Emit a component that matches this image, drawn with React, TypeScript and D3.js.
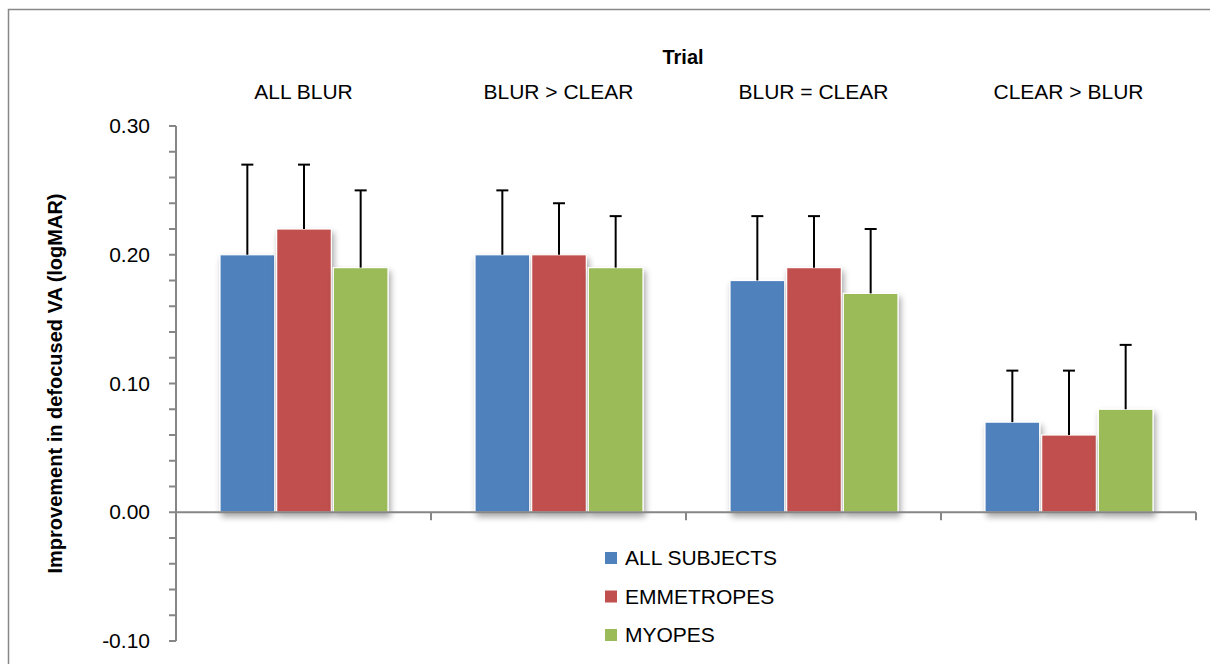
import React from 'react';
import * as d3 from 'd3';

const categories = ['ALL BLUR', 'BLUR > CLEAR', 'BLUR = CLEAR', 'CLEAR > BLUR'];
const seriesNames = ['ALL SUBJECTS', 'EMMETROPES', 'MYOPES'];
const seriesColors = ['#4F81BD', '#C0504D', '#9BBB59'];
const allSubjects = [0.2, 0.2, 0.18, 0.07];
const emmetropes = [0.22, 0.2, 0.19, 0.06];
const myopes = [0.19, 0.19, 0.17, 0.08];
const allSubjectsErr = [0.27, 0.25, 0.23, 0.11];
const emmetropesErr = [0.27, 0.24, 0.23, 0.11];
const myopesErr = [0.25, 0.23, 0.22, 0.13];
const yTicks = [-0.1, 0, 0.1, 0.2, 0.3];

const App = () => {
  const width = 1210;
  const height = 664;
  const left = 176;
  const right = 1196;
  const font = '"Liberation Sans", Arial, sans-serif';

  const yScale = d3.scaleLinear().domain([-0.1, 0.3]).range([641, 126]);
  const xScale = d3.scaleBand().domain(categories).range([left, right]).paddingInner(0).paddingOuter(0);
  const inner = d3.scaleBand().domain(seriesNames).range([44, xScale.bandwidth() - 43]).paddingInner(0.035);

  const values = [allSubjects, emmetropes, myopes];
  const errs = [allSubjectsErr, emmetropesErr, myopesErr];
  const minorTicks = d3.range(-0.1, 0.3001, 0.02);
  const y0 = yScale(0);
  const fmt = (t: number) => d3.format('.2f')(t).replace('\u2212', '-');

  return (
    <svg width={width} height={height} style={{ position: 'absolute', left: 0, top: 0 }}>
      <defs>
        <filter id='shadow' x='-20%' y='-20%' width='150%' height='150%'>
          <feDropShadow dx='2' dy='4' stdDeviation='3' floodColor='#000' floodOpacity='0.35' />
        </filter>
      </defs>
      <rect x={0} y={0} width={width} height={height} fill='#fff' />
      <rect x={8.5} y={9.5} width={1300} height={800} fill='none' stroke='#888' strokeWidth={1.5} />

      <text x={683} y={64} textAnchor='middle' fontFamily={font} fontWeight='bold' fontSize={20}>
        Trial
      </text>
      {categories.map((c) => (
        <text key={c} x={xScale(c)! + xScale.bandwidth() / 2} y={99} textAnchor='middle' fontFamily={font} fontSize={21}>
          {c}
        </text>
      ))}

      {/* bars */}
      {categories.map((c, i) =>
        seriesNames.map((s, j) => {
          const x = xScale(c)! + inner(s)!;
          const v = values[j][i];
          return (
            <rect
              key={c + s}
              x={x}
              y={yScale(v)}
              width={inner.bandwidth()}
              height={y0 - yScale(v)}
              fill={seriesColors[j]}
              stroke='#fff'
              strokeWidth={1.2}
              filter='url(#shadow)'
            />
          );
        })
      )}

      {/* error bars */}
      {categories.map((c, i) =>
        seriesNames.map((s, j) => {
          const cx = xScale(c)! + inner(s)! + inner.bandwidth() / 2;
          return (
            <g key={'e' + c + s} stroke='#000' strokeWidth={2}>
              <line x1={cx} x2={cx} y1={yScale(values[j][i])} y2={yScale(errs[j][i])} />
              <line x1={cx - 6} x2={cx + 6} y1={yScale(errs[j][i])} y2={yScale(errs[j][i])} />
            </g>
          );
        })
      )}

      {/* axes */}
      <g stroke='#868686' strokeWidth={2}>
        <line x1={left} x2={left} y1={yScale(0.3)} y2={yScale(-0.1)} />
        {minorTicks.map((t, k) => (
          <line key={k} x1={left - 7} x2={left} y1={yScale(t)} y2={yScale(t)} />
        ))}
        <line x1={left} x2={right} y1={y0} y2={y0} />
        {d3.range(categories.length + 1).map((k) => {
          const x = left + k * xScale.bandwidth();
          return <line key={'xt' + k} x1={x} x2={x} y1={y0} y2={y0 + 8} />;
        })}
      </g>
      {yTicks.map((t) => (
        <text key={t} x={150} y={yScale(t) + 7} textAnchor='end' fontFamily={font} fontSize={21}>
          {fmt(t)}
        </text>
      ))}
      <text
        transform={`translate(62, ${(yScale(0.3) + yScale(-0.1)) / 2}) rotate(-90)`}
        textAnchor='middle'
        fontFamily={font}
        fontWeight='bold'
        fontSize={20}
      >
        Improvement in defocused VA (logMAR)
      </text>

      {/* legend */}
      {seriesNames.map((s, j) => (
        <g key={'l' + s} transform={`translate(605, ${558 + j * 38.5})`}>
          <rect x={0} y={-6} width={12} height={12} fill={seriesColors[j]} />
          <text x={20} y={7} fontFamily={font} fontSize={21}>
            {s}
          </text>
        </g>
      ))}
    </svg>
  );
};

export default App;
